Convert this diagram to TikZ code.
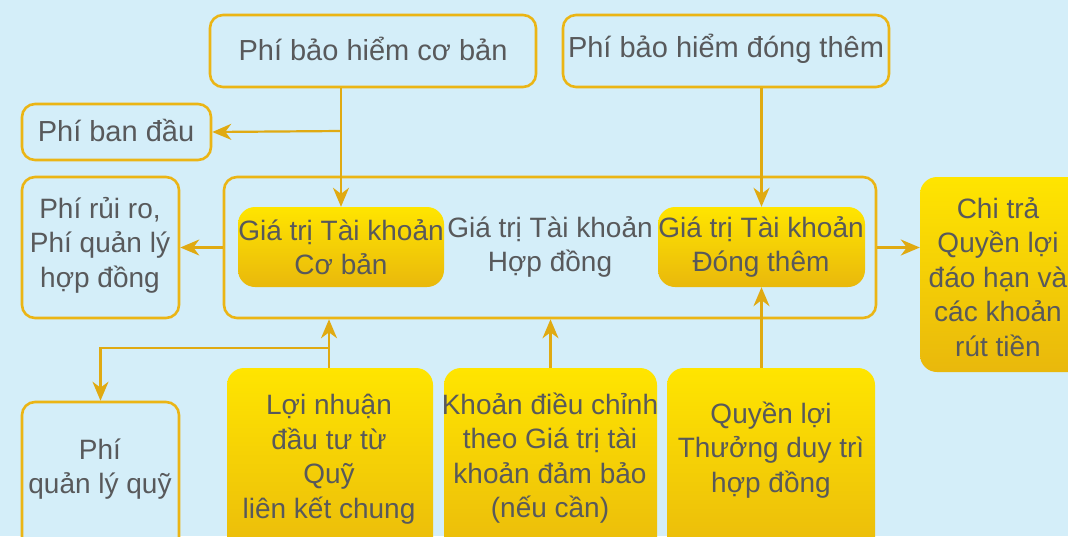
\documentclass[tikz,border=0pt]{standalone}
\usepackage{fontspec}
\setmainfont{Liberation Sans}
\usetikzlibrary{arrows.meta}
\definecolor{bgblue}{HTML}{D4EEF9}
\definecolor{gline}{HTML}{E0AA12}
\definecolor{gborder}{HTML}{EBB515}
\definecolor{gtop}{HTML}{FFE500}
\definecolor{gbot}{HTML}{E9B80C}
\definecolor{txt}{HTML}{58595B}
\tikzset{
  outbox/.style={draw=gborder, line width=2.6pt, rounded corners=13pt, fill=bgblue, inner sep=0pt},
  goldbox/.style={top color=gtop, bottom color=gbot, draw=none, rounded corners=17pt, inner sep=0pt},
  lbl/.style={text=txt, align=center, inner sep=0pt, font=\fontsize{28}{34.5}\selectfont},
  biglbl/.style={lbl, font=\fontsize{29}{35}\selectfont},
  conn/.style={draw=gline, line width=2.2pt, -{Stealth[length=19pt,width=16pt,inset=6pt]}}
}
\begin{document}
\begin{tikzpicture}[x=1pt,y=-1pt]
\useasboundingbox (0,0) rectangle (1068,536);
\fill[bgblue] (0,0) rectangle (1068,536);
\clip (0,0) rectangle (1068,536);
% top boxes
\node[outbox, minimum width=326pt, minimum height=72pt] (A) at (373,51) {};
\node[biglbl] (At) at (373,49) {Phí bảo hiểm cơ bản};
\node[outbox, minimum width=326pt, minimum height=72pt] (B) at (726,51) {};
\node[biglbl] (Bt) at (726,49) {Phí bảo hiểm đóng thêm};
\node[outbox, minimum width=189pt, minimum height=56pt] (ban) at (116.5,132) {};
\node[biglbl] (bant) at (116,130) {Phí ban đầu};
\node[outbox, minimum width=157pt, minimum height=141pt] (rui) at (100.5,247.5) {};
\node[lbl] (ruit) at (100,245) {Phí rủi ro,\\Phí quản lý\\hợp đồng};
% container
\node[outbox, fill=none, minimum width=652pt, minimum height=141pt] (cont) at (550,247.5) {};
\node[goldbox, minimum width=206pt, minimum height=80pt] (cb) at (341,247) {};
\node[lbl] (cbt) at (341,247) {Giá trị Tài khoản\\Cơ bản};
\node[lbl] (hd) at (550,247) {Giá trị Tài khoản\\Hợp đồng};
\node[goldbox, minimum width=207pt, minimum height=80pt] (dt) at (761.5,247) {};
\node[lbl] (dtt) at (761,247) {Giá trị Tài khoản\\Đóng thêm};
% right box
\node[goldbox, minimum width=170pt, minimum height=195pt] (chi) at (1005,274.5) {};
\node[lbl] (chit) at (998,277) {Chi trả\\Quyền lợi\\đáo hạn và\\các khoản\\rút tiền};
% bottom boxes
\node[outbox, minimum width=157pt, minimum height=170pt] (qlq) at (100.5,487) {};
\node[lbl] (qlqt) at (100,469) {Phí\\quản lý quỹ};
\node[goldbox, minimum width=206pt, minimum height=200pt] (ln) at (330,468) {};
\node[lbl] (lnt) at (329,459) {Lợi nhuận\\đầu tư từ\\Quỹ\\liên kết chung};
\node[goldbox, minimum width=213pt, minimum height=200pt] (kd) at (550.5,468) {};
\node[lbl] (kdt) at (550,458) {Khoản điều chỉnh\\theo Giá trị tài\\khoản đảm bảo\\(nếu cần)};
\node[goldbox, minimum width=208pt, minimum height=200pt] (ql) at (771,468) {};
\node[lbl] (qlt) at (771,450) {Quyền lợi\\Thưởng duy trì\\hợp đồng};
% connectors
\coordinate (j1) at (341,131);
\coordinate (j2) at (329,348);
\coordinate (j3) at (100.5,348);
\draw[conn] (cb.north |- A.south) -- (cb.north);
\draw[conn] (j1) -- (ban.east);
\draw[conn] (dt.north |- B.south) -- (dt.north);
\draw[conn] (cont.west) -- (rui.east);
\draw[conn] (cont.east) -- (chi.west |- cont.east);
\draw[conn] (ln.north -| j2) -- (j2 |- cont.south);
\draw[conn] (j2) -- (j3) -- (qlq.north);
\draw[conn] (kd.north) -- (kd.north |- cont.south);
\draw[conn] (dt.south |- ql.north) -- (dt.south);
\end{tikzpicture}
\end{document}
